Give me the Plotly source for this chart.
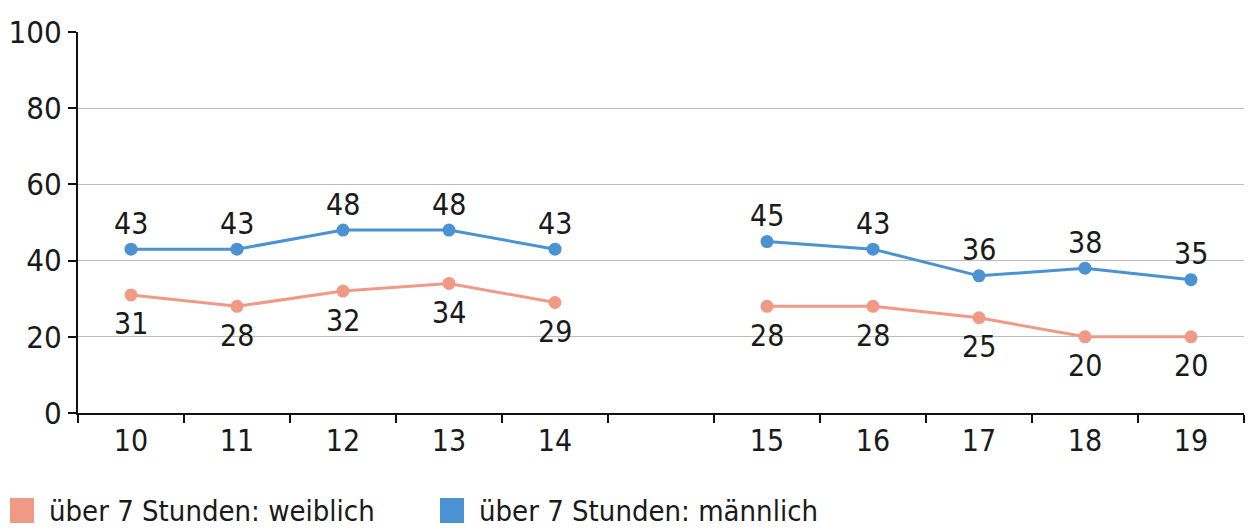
import plotly.graph_objects as go

categories = ["10", "11", "12", "13", "14", " ", "15", "16", "17", "18", "19"]
weiblich = [31, 28, 32, 34, 29, None, 28, 28, 25, 20, 20]
maennlich = [43, 43, 48, 48, 43, None, 45, 43, 36, 38, 35]
y_ticks = [0, 20, 40, 60, 80, 100]
names = ["über 7 Stunden: weiblich", "über 7 Stunden: männlich"]

PINK = "#f09a86"
BLUE = "#4a92d2"
TXT = "#1a1a1a"
FONT = "Liberation Sans Narrow, DejaVu Sans Condensed, sans-serif"

fig = go.Figure()
fig.add_trace(go.Scatter(
    x=categories, y=weiblich, mode="lines+markers", name=names[0],
    line=dict(color=PINK, width=3), marker=dict(color=PINK, size=13),
    connectgaps=False, showlegend=False, cliponaxis=False, hoverinfo="skip"))
fig.add_trace(go.Scatter(
    x=categories, y=maennlich, mode="lines+markers", name=names[1],
    line=dict(color=BLUE, width=3), marker=dict(color=BLUE, size=13),
    connectgaps=False, showlegend=False, cliponaxis=False, hoverinfo="skip"))

annotations = []
# category axis: annotation x given as category index
for i, v in enumerate(weiblich):
    if v is not None:
        annotations.append(dict(x=i, y=v, xref="x", yref="y", text=str(v),
                                showarrow=False, yshift=-29,
                                font=dict(size=30, family=FONT, color=TXT)))
for i, v in enumerate(maennlich):
    if v is not None:
        annotations.append(dict(x=i, y=v, xref="x", yref="y", text=str(v),
                                showarrow=False, yshift=26,
                                font=dict(size=30, family=FONT, color=TXT)))

# legend drawn as squares + text in paper coordinates
W, H = 1166, 381
def px_x(px):
    return (px - 78) / W
def px_y(py):
    return (413 - py) / H

shapes = []
leg_x = [10, 440]
for i, (nm, col) in enumerate(zip(names, [PINK, BLUE])):
    x0 = leg_x[i]
    shapes.append(dict(type="rect", xref="paper", yref="paper",
                       x0=px_x(x0), x1=px_x(x0 + 24), y0=px_y(523), y1=px_y(498),
                       fillcolor=col, line=dict(width=0)))
    annotations.append(dict(x=px_x(x0 + 37), y=px_y(511), xref="paper", yref="paper",
                            text=nm, showarrow=False, xanchor="left", yanchor="middle",
                            font=dict(size=29, family=FONT, color=TXT)))

fig.update_layout(
    width=1248, height=532,
    margin=dict(l=78, r=4, t=32, b=119, autoexpand=False),
    paper_bgcolor="white", plot_bgcolor="white",
    font=dict(family=FONT, size=30, color=TXT),
    showlegend=False, hovermode=False,
    annotations=annotations, shapes=shapes,
)
fig.update_xaxes(
    type="category", categoryorder="array", categoryarray=categories,
    range=[-0.5, 10.5], tickson="boundaries", ticks="outside", ticklen=8,
    tickcolor="#111", tickwidth=2, showline=True, linecolor="#111", linewidth=2,
    showgrid=False, automargin=False,
    tickfont=dict(size=30, family=FONT, color=TXT))
fig.update_yaxes(
    range=[0, 100], tickvals=y_ticks, ticks="outside", ticklen=8,
    tickcolor="#111", tickwidth=2, showline=True, linecolor="#111", linewidth=2,
    showgrid=True, gridcolor="#bdbdbd", gridwidth=1, zeroline=False,
    automargin=False, tickfont=dict(size=31, family=FONT, color=TXT))

fig.write_html("out.html", config={"displayModeBar": False},
               post_script="document.body.style.margin='0';document.body.style.overflow='hidden';")
